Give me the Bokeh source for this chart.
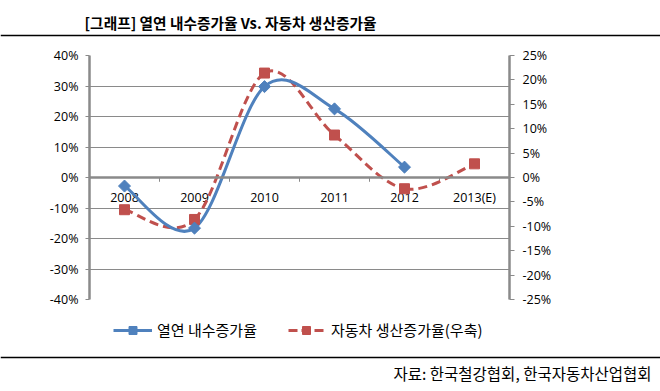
import math
from bokeh.plotting import figure
from bokeh.layouts import column
from bokeh.models import (Range1d, LinearAxis, FixedTicker, PrintfTickFormatter, Span,
                          Legend, LegendItem, ColumnDataSource)
from bokeh.embed import file_html
from bokeh.resources import INLINE
from bokeh.core.properties import value

# ---------------- data ----------------
years = ["2008", "2009", "2010", "2011", "2012", "2013(E)"]
steel_growth = [-2.8, -16.6, 29.8, 22.5, 3.4]          # left axis (%)
auto_growth = [-6.6, -8.6, 21.4, 8.7, -2.3, 2.8]       # right axis (%)
left_ticks = [-40, -30, -20, -10, 0, 10, 20, 30, 40]
right_ticks = [-25, -20, -15, -10, -5, 0, 5, 10, 15, 20, 25]
title_text = "[그래프] 열연 내수증가율 Vs. 자동차 생산증가율"
source_text = "자료: 한국철강협회, 한국자동차산업협회"
steel_name = "열연 내수증가율"
auto_name = "자동차 생산증가율(우축)"

# ---------------- style ----------------
BLUE = "#4F81BD"
RED = "#C0504D"
GRID = "#8A8A8A"
KFONT = "Noto Sans CJK KR"
NFONT = "Open Sans"
W = 660
HEAD_H = 40
FOOT_H = 76
MAIN_H = 391 - HEAD_H - FOOT_H
NAN = float("nan")
DIAMOND = dict(marker="square", angle=math.pi / 4, size=8.5, fill_color=BLUE, line_color=BLUE)
SQUARE = dict(marker="square", size=10, fill_color=RED, line_color=RED)

xs_all = [i + 0.5 for i in range(len(years))]


def smooth_source(xs, ys):
    """Bezier control points for a smoothed line through the data points."""
    n = len(xs)
    d = dict(x0=[], y0=[], x1=[], y1=[], cx0=[], cy0=[], cx1=[], cy1=[])
    for i in range(n - 1):
        a = max(i - 1, 0)
        b = min(i + 2, n - 1)
        d["x0"].append(xs[i]); d["y0"].append(ys[i])
        d["x1"].append(xs[i + 1]); d["y1"].append(ys[i + 1])
        d["cx0"].append(xs[i] + (xs[i + 1] - xs[a]) / 6.0)
        d["cy0"].append(ys[i] + (ys[i + 1] - ys[a]) / 6.0)
        d["cx1"].append(xs[i + 1] - (xs[b] - xs[i]) / 6.0)
        d["cy1"].append(ys[i + 1] - (ys[b] - ys[i]) / 6.0)
    return ColumnDataSource(d)


def blank(h):
    f = figure(width=W, height=h, x_range=Range1d(0, W), y_range=Range1d(h, 0),
               x_axis_location=None, y_axis_location=None,
               output_backend="svg", toolbar_location=None,
               min_border=0, min_border_left=0, min_border_right=0,
               min_border_top=0, min_border_bottom=0, frame_align=False)
    f.outline_line_color = None
    f.xgrid.visible = False
    f.ygrid.visible = False
    return f


# ---------------- header ----------------
head = blank(HEAD_H)
head.text(x=[230], y=[22], text=[title_text], text_align="center", text_baseline="middle",
          text_font=value(KFONT), text_font_size="14.7px", text_font_style="bold",
          text_color="#000000")
head.segment(x0=[0], y0=[35], x1=[W], y1=[35], line_color="#000000", line_width=1.5)

# ---------------- main chart ----------------
p = figure(width=W, height=MAIN_H,
           x_range=Range1d(0, len(years)), y_range=Range1d(-40, 40),
           x_axis_location=None, y_axis_location="left",
           output_backend="svg", toolbar_location=None,
           min_border_left=89, min_border_right=151,
           min_border_top=15, min_border_bottom=16, frame_align=False)
p.outline_line_color = None
p.extra_y_ranges = {"right": Range1d(-25, 25)}

ya = p.yaxis[0]
ya.ticker = FixedTicker(ticks=left_ticks)
ya.formatter = PrintfTickFormatter(format="%d%%")
ra = LinearAxis(y_range_name="right", ticker=FixedTicker(ticks=right_ticks),
                formatter=PrintfTickFormatter(format="%d%%"))
p.add_layout(ra, "right")

for ax, tout, stand in [(ya, 4, 7), (ra, 5, 8)]:
    ax.axis_line_color = GRID
    ax.axis_line_width = 2.5
    ax.major_tick_line_color = GRID
    ax.major_tick_line_width = 1
    ax.major_tick_in = 0
    ax.major_tick_out = tout
    ax.minor_tick_line_color = None
    ax.major_label_standoff = stand
    ax.major_label_text_font = NFONT
    ax.major_label_text_font_size = "12.5px"
    ax.major_label_text_color = "#000000"

p.xgrid.visible = False
p.ygrid.ticker = FixedTicker(ticks=left_ticks)
p.ygrid.grid_line_color = GRID
p.ygrid.grid_line_width = 1

p.add_layout(Span(location=0, dimension="width", line_color=GRID, line_width=2.5))
bounds = list(range(1, len(years)))
p.segment(x0=bounds, y0=[0] * len(bounds), x1=bounds, y1=[-1.4] * len(bounds),
          line_color=GRID, line_width=1)
p.text(x=xs_all, y=[0] * len(years), text=years, y_offset=20,
       text_align="center", text_baseline="middle",
       text_font=value(NFONT), text_font_size="12.5px", text_color="#000000")

auto_src = smooth_source(xs_all, auto_growth)
steel_src = smooth_source(xs_all[:len(steel_growth)], steel_growth)

p.bezier(x0="x0", y0="y0", x1="x1", y1="y1", cx0="cx0", cy0="cy0", cx1="cx1", cy1="cy1",
         source=auto_src, line_color=RED, line_width=3, line_dash="9 5",
         y_range_name="right")
p.bezier(x0="x0", y0="y0", x1="x1", y1="y1", cx0="cx0", cy0="cy0", cx1="cx1", cy1="cy1",
         source=steel_src, line_color=BLUE, line_width=3)
p.scatter(x=xs_all, y=auto_growth, y_range_name="right", **SQUARE)
p.scatter(x=xs_all[:len(steel_growth)], y=steel_growth, **DIAMOND)

# ---------------- footer: legend, rule, source ----------------
foot = blank(FOOT_H)
lb = foot.line(x=[NAN, NAN], y=[NAN, NAN], line_color=BLUE, line_width=3)
sb = foot.scatter(x=[NAN], y=[NAN], **DIAMOND)
lr = foot.line(x=[NAN, NAN], y=[NAN, NAN], line_color=RED, line_width=3, line_dash="9 4")
sr = foot.scatter(x=[NAN], y=[NAN], **SQUARE)

for items, loc, gw, standoff in [
        ([LegendItem(label=steel_name, renderers=[lb, sb])], (113, 51), 39, 5),
        ([LegendItem(label=auto_name, renderers=[lr, sr])], (288, 51), 36, 7)]:
    lg = Legend(items=items, location=loc, orientation="horizontal",
                padding=0, margin=0, spacing=0,
                border_line_color=None, background_fill_alpha=0,
                glyph_width=gw, glyph_height=20, label_standoff=standoff,
                label_height=20,
                label_text_font=KFONT, label_text_font_size="15px",
                label_text_color="#000000")
    foot.add_layout(lg)

foot.segment(x0=[0], y0=[42], x1=[W], y1=[42], line_color="#000000", line_width=1.5)
foot.text(x=[651], y=[57], text=[source_text], text_align="right", text_baseline="middle",
          text_font=value(KFONT), text_font_size="15.5px", text_color="#000000")

layout = column(head, p, foot, spacing=0)
open("out.html", "w").write(file_html(layout, INLINE))
